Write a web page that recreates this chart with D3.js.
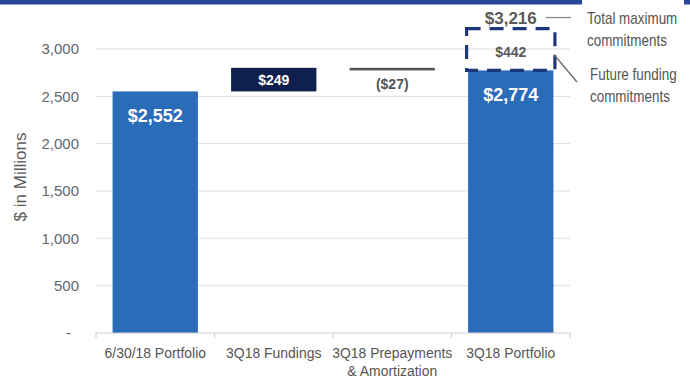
<!DOCTYPE html>
<html>
<head>
<meta charset="utf-8">
<script src="https://cdn.jsdelivr.net/npm/d3@7"></script>
<style>
  html, body { margin: 0; padding: 0; background: #ffffff; }
  svg { display: block; }
</style>
</head>
<body>
<svg id="chart" width="690" height="379"></svg>
<script>
// Portfolio roll-forward, $ in millions
const categories = ["6/30/18 Portfolio", "3Q18 Fundings", "3Q18 Prepayments\n& Amortization", "3Q18 Portfolio"];
const stepValues = [2552, 249, -27, 2774];           // opening total, change, change, closing total
const stepKinds  = ["total", "increase", "decrease", "total"];
const stepLabels = ["$2,552", "$249", "($27)", "$2,774"];
const futureFunding = 442;                           // unfunded commitments on top of the closing total
const futureLabel = "$442";
const totalMaxLabel = "$3,216";
const yTicks = [0, 500, 1000, 1500, 2000, 2500, 3000];
const yTickLabels = ["-", "500", "1,000", "1,500", "2,000", "2,500", "3,000"];

const colors = { total: "#2b6cb9", increase: "#0f1f4e", decrease: "#4e5655", dash: "#1d377a" };
const FONT = "Liberation Sans, Arial, sans-serif";

const svg = d3.select("#chart");

// condensed text: horizontally squeezed regular sans
function narrowText(parent, x, y, str, size, anchor, squeeze) {
  return parent.append("text")
    .attr("transform", `translate(${x},${y}) scale(${squeeze},1)`)
    .attr("dy", "0.35em")
    .attr("text-anchor", anchor)
    .attr("font-family", FONT)
    .attr("font-size", size)
    .attr("fill", "#555")
    .text(str);
}

// top slide rule
svg.append("rect").attr("x", 0).attr("y", 0).attr("width", 582).attr("height", 4.5).attr("fill", "#27479b");
svg.append("rect").attr("x", 684).attr("y", 0).attr("width", 6).attr("height", 4.5).attr("fill", "#27479b");

const x = d3.scaleBand().domain(categories).range([96, 570]).padding(0);
const y = d3.scaleLinear().domain([0, 3000]).range([333, 49]);
const barW = x.bandwidth() * 0.72;
const cx = c => x(c) + x.bandwidth() / 2;

// gridlines
svg.append("g").selectAll("line").data(yTicks.filter(v => v > 0)).join("line")
  .attr("x1", 96).attr("x2", 570)
  .attr("y1", d => y(d)).attr("y2", d => y(d))
  .attr("stroke", "#dedede").attr("stroke-width", 1);

// y tick labels
svg.append("g").selectAll("text").data(yTicks).join("text")
  .attr("x", (d, i) => i === 0 ? 71 : 79)
  .attr("y", d => y(d))
  .attr("dy", "0.35em")
  .attr("text-anchor", "end")
  .attr("font-family", FONT)
  .attr("font-size", 15)
  .attr("fill", "#666")
  .text((d, i) => yTickLabels[i]);

// y axis title
svg.append("text")
  .attr("transform", `translate(20,177) rotate(-90)`)
  .attr("text-anchor", "middle")
  .attr("dy", "0.35em")
  .attr("font-family", FONT)
  .attr("font-size", 17)
  .attr("fill", "#595959")
  .text("$ in Millions");

// waterfall geometry
let running = 0;
const steps = categories.map((c, i) => {
  const v = stepValues[i];
  let lo, hi;
  if (stepKinds[i] === "total") { lo = 0; hi = v; running = v; }
  else { const next = running + v; lo = Math.min(running, next); hi = Math.max(running, next); running = next; }
  return { c, lo, hi, kind: stepKinds[i], label: stepLabels[i] };
});

svg.append("g").selectAll("rect").data(steps).join("rect")
  .attr("x", d => cx(d.c) - barW / 2)
  .attr("width", barW)
  .attr("y", d => y(d.hi))
  .attr("height", d => Math.max(1, y(d.lo) - y(d.hi)))
  .attr("fill", d => colors[d.kind]);

// value labels
svg.append("g").selectAll("text").data(steps).join("text")
  .attr("x", d => cx(d.c))
  .attr("y", d => {
    if (d.kind === "total") return y(d.hi) + 24;
    if (d.kind === "decrease") return y(d.lo) + 14;
    return (y(d.hi) + y(d.lo)) / 2;
  })
  .attr("dy", "0.35em")
  .attr("text-anchor", "middle")
  .attr("font-family", FONT)
  .attr("font-weight", "bold")
  .attr("font-size", d => d.kind === "total" ? 18 : 14)
  .attr("fill", d => d.kind === "decrease" ? "#4e5655" : "#ffffff")
  .text(d => d.label);

// baseline and category ticks
svg.append("line").attr("x1", 96).attr("x2", 570).attr("y1", 333).attr("y2", 333)
  .attr("stroke", "#cfcfcf").attr("stroke-width", 1.2);
const bounds = categories.map(c => x(c)).concat([570]);
svg.append("g").selectAll("line").data(bounds).join("line")
  .attr("x1", d => d).attr("x2", d => d).attr("y1", 333).attr("y2", 338)
  .attr("stroke", "#cfcfcf").attr("stroke-width", 1.2);

// category labels
const catG = svg.append("g");
categories.forEach(c => {
  c.split("\n").forEach((line, k) => {
    narrowText(catG, cx(c), 353 + k * 18, line, 15, "middle", 0.93);
  });
});

// future funding commitments: dashed box above the closing bar
const last = steps[3];
const boxTop = y(last.hi + futureFunding), boxBot = y(last.hi);
const bx0 = cx(last.c) - barW / 2 - 1.5, bx1 = cx(last.c) + barW / 2 + 1.5;
svg.append("rect")
  .attr("x", bx0).attr("y", boxTop)
  .attr("width", bx1 - bx0).attr("height", boxBot - boxTop)
  .attr("fill", "none")
  .attr("stroke", colors.dash).attr("stroke-width", 3.2)
  .attr("stroke-dasharray", "14,9");

svg.append("text")
  .attr("x", cx(last.c)).attr("y", (boxTop + boxBot) / 2 + 3)
  .attr("dy", "0.35em").attr("text-anchor", "middle")
  .attr("font-family", FONT)
  .attr("font-weight", "bold").attr("font-size", 14).attr("fill", "#595959")
  .text(futureLabel);

// total maximum label above the box
const totalY = boxTop - 11;
svg.append("text")
  .attr("x", cx(last.c)).attr("y", totalY)
  .attr("dy", "0.35em").attr("text-anchor", "middle")
  .attr("font-family", FONT)
  .attr("font-weight", "bold").attr("font-size", 17).attr("fill", "#595959")
  .text(totalMaxLabel);

// callouts
svg.append("line").attr("x1", 546).attr("x2", 571).attr("y1", totalY).attr("y2", totalY)
  .attr("stroke", "#8a8a8a").attr("stroke-width", 1.3);
svg.append("line").attr("x1", bx1 - 1).attr("y1", (boxTop + boxBot) / 2 + 5).attr("x2", 577).attr("y2", 82)
  .attr("stroke", "#6a6a6a").attr("stroke-width", 1.3);

const notes = [
  { x: 587, y: totalY + 1, lines: ["Total maximum", "commitments"] },
  { x: 590, y: 74, lines: ["Future funding", "commitments"] }
];
const noteG = svg.append("g");
notes.forEach(n => {
  n.lines.forEach((line, k) => {
    narrowText(noteG, n.x, n.y + k * 22, line, 16, "start", 0.84);
  });
});
</script>
</body>
</html>
